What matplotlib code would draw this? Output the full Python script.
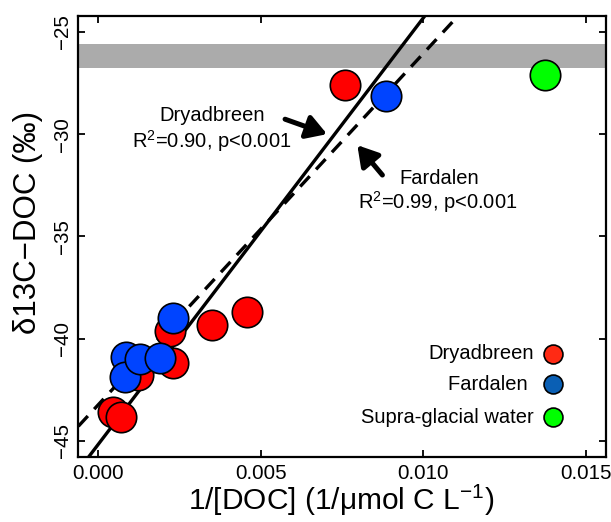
import matplotlib
matplotlib.use("Agg")
import matplotlib.pyplot as plt
import numpy as np

plt.rcParams['font.family'] = ['Liberation Sans', 'DejaVu Sans']
plt.rcParams['mathtext.fontset'] = 'custom'
plt.rcParams['mathtext.rm'] = 'Liberation Sans'
plt.rcParams['mathtext.it'] = 'Liberation Sans:italic'
plt.rcParams['mathtext.default'] = 'regular'

# ---- data ----
dry_x = [0.00760, 0.00223, 0.00352, 0.00457, 0.00231, 0.00123, 0.00046, 0.00072]
dry_y = [-27.60, -39.61, -39.33, -38.71, -41.20, -41.77, -43.56, -43.81]
far_x = [0.00886, 0.00231, 0.00087, 0.00082, 0.00128, 0.00190]
far_y = [-28.13, -39.00, -40.88, -41.85, -40.99, -40.96]
sup_x = [0.01372]
sup_y = [-27.12]

# regression lines: (intercept, slope)
dry_fit = (-45.19, 2088.0)
far_fit = (-43.25, 1720.0)

# supra-glacial band
band = (-26.76, -25.57)

x_ticks = [0.000, 0.005, 0.010, 0.015]
x_ticklabels = ["0.000", "0.005", "0.010", "0.015"]
y_ticks = [-45, -40, -35, -30, -25]
y_ticklabels = ["\u221245", "\u221240", "\u221235", "\u221230", "\u221225"]

legend_labels = ["Dryadbreen", "Fardalen ", "Supra-glacial water"]
legend_colors = ["#FF2A14", "#0A5FB4", "#00FF00"]
legend_y = [-40.73, -42.22, -43.83]

col_dry = "#FF0000"
col_far = "#0044FF"
col_sup = "#00FF00"

# ---- figure ----
fig = plt.figure(figsize=(6.11, 5.22), dpi=100)
ax = fig.add_axes([0.1282, 0.1239, 0.8632, 0.8464])
ax.set_xlim(-0.0006, 0.0156)
ax.set_ylim(-45.8, -24.2)

ax.axhspan(band[0], band[1], color="#ABABAB", lw=0, zorder=0)

ax.axline((0, dry_fit[0]), slope=dry_fit[1], color="black", lw=2.4, zorder=2)
ax.axline((0, far_fit[0]), slope=far_fit[1], color="black", lw=2.4,
          linestyle=(0, (4.2, 2.8)), zorder=2)

ms = 480
ax.scatter(dry_x, dry_y, s=ms, c=col_dry, edgecolors="black", linewidths=1.2, zorder=3)
ax.scatter(far_x, far_y, s=ms, c=col_far, edgecolors="black", linewidths=1.2, zorder=4)
ax.scatter(sup_x, sup_y, s=ms, c=col_sup, edgecolors="black", linewidths=1.2, zorder=4)

# annotations
fs = 14.5
ax.text(0.00350, -29.07, "Dryadbreen", ha="center", va="center", fontsize=fs)
ax.text(0.00350, -30.34, r"R$^2$=0.90, p<0.001", ha="center", va="center", fontsize=fs)
ax.text(0.01049, -32.15, "Fardalen", ha="center", va="center", fontsize=fs)
ax.text(0.01045, -33.32, r"R$^2$=0.99, p<0.001", ha="center", va="center", fontsize=fs)

arrow_kw = dict(arrowstyle="-|>,head_length=0.75,head_width=0.45", lw=3.6,
                color="black", mutation_scale=16, shrinkA=0, shrinkB=0)
ax.annotate("", xy=(0.00704, -30.00), xytext=(0.00575, -29.27), arrowprops=arrow_kw, zorder=5)
ax.annotate("", xy=(0.00797, -30.54), xytext=(0.00874, -32.00), arrowprops=arrow_kw, zorder=5)

# legend (manual)
for lab, col, yy in zip(legend_labels, legend_colors, legend_y):
    ax.text(0.01338, yy, lab, ha="right", va="center", fontsize=fs)
    ax.scatter([0.01397], [yy], s=185, c=col, edgecolors="black", linewidths=1.2, zorder=5)

# ticks
ax.set_xticks(x_ticks)
ax.set_xticklabels(x_ticklabels)
ax.set_yticks(y_ticks)
ax.set_yticklabels(y_ticklabels, rotation=90, va="center")
ax.tick_params(direction="in", length=5, width=1.3, labelsize=14.8,
               top=True, right=True)
ax.tick_params(axis="x", pad=5)
ax.tick_params(axis="y", pad=4.5)
for sp in ax.spines.values():
    sp.set_linewidth(1.6)

fig.text(341.5 / 611, 1 - 500 / 522, "1/[DOC] (1/\u03bcmol C L$^{-1}$)",
         ha="center", va="center", fontsize=21.5)
fig.text(28 / 611, 1 - 222 / 522, "\u03b413C\u2212DOC (\u2030)", rotation=90,
         ha="center", va="center", fontsize=22.5)

fig.savefig("out.png", dpi=100)
